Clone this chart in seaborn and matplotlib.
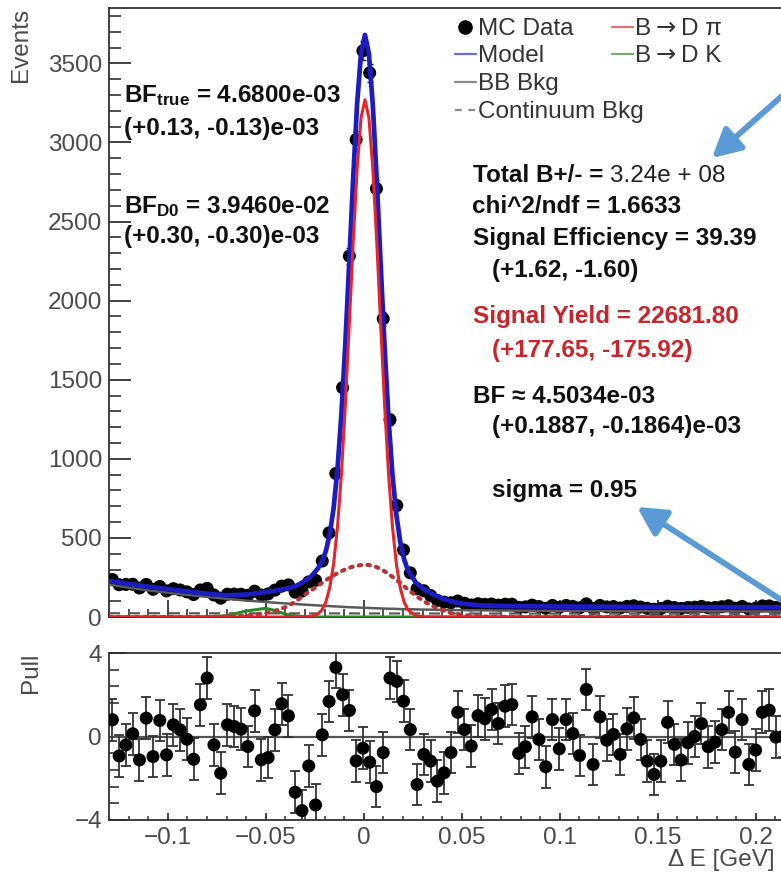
import numpy as np
import pandas as pd
import matplotlib
matplotlib.use("Agg")
import matplotlib.pyplot as plt
import seaborn as sns
from matplotlib.lines import Line2D
from matplotlib.patches import FancyArrowPatch
from matplotlib.ticker import MultipleLocator, FixedLocator, NullFormatter

# ---------------- histogram binning in Delta E ----------------
de_lo, de_hi, n_bins = -0.13, 0.25, 110

# MC data: events per bin (bins shown in the frame)
events = [237, 204, 206, 207, 183, 206, 175, 193, 165, 179,
          171, 159, 142, 171, 181, 139, 119, 144, 145, 144,
          137, 163, 139, 146, 170, 195, 203, 157, 164, 222,
          232, 354, 532, 907, 1450, 2282, 3018, 3579, 3440, 2708,
          1885, 1247, 705, 424, 279, 179, 166, 136, 105, 94,
          90, 101, 87, 76, 84, 80, 82, 75, 81, 81,
          61, 64, 75, 66, 55, 73, 61, 73, 67, 58,
          83, 54, 73, 64, 66, 57, 67, 71, 63, 55,
          49, 54, 68, 60, 54, 61, 62, 67, 58, 60,
          65, 71, 55, 67, 51, 56, 70, 70, 60, 60]

# pull of each bin w.r.t. the fitted model
pulls = [0.80, -0.93, -0.40, 0.13, -1.12, 0.88, -0.96, 0.77, -0.88, 0.56,
         0.32, -0.13, -1.09, 1.52, 2.80, -0.40, -1.76, 0.56, 0.48, 0.35,
         -0.48, 1.23, -1.12, -1.01, 0.32, 1.57, 0.99, -2.67, -3.55, -1.41,
         -3.28, 0.08, 1.68, 3.31, 2.00, 1.25, -1.17, -0.56, -1.23, -2.40,
         -0.77, 2.80, 2.64, 1.69, 0.33, -2.30, -0.86, -1.18, -2.14, -1.74,
         -0.77, 1.16, 0.33, -0.46, 1.00, 0.85, 1.29, 0.62, 1.45, 1.53,
         -0.81, -0.49, 0.94, -0.14, -1.45, 0.81, -0.59, 0.81, 0.14, -0.91,
         2.25, -1.34, 0.94, -0.18, 0.10, -0.86, 0.37, 0.89, -0.14, -1.18,
         -1.82, -1.18, 0.68, -0.38, -1.13, -0.30, 0.00, 0.62, -0.49, -0.27,
         0.33, 1.16, -0.75, 0.81, -1.34, -0.65, 1.16, 1.26, -0.03, 0.00]

# ---------------- fitted PDF components, sampled along Delta E ----------------
fit_x = [-0.13, -0.12, -0.11, -0.10, -0.09, -0.08, -0.07, -0.06, -0.05, -0.045,
         -0.04, -0.035, -0.0314, -0.0274, -0.0234,
         -0.0214, -0.0194, -0.0174, -0.0154, -0.0134, -0.0114, -0.0094, -0.0074,
         -0.0054, -0.0034, -0.0014, 0.0006,
         0.0026, 0.0046, 0.0066, 0.0086, 0.0106, 0.0126, 0.0146, 0.0166, 0.0186,
         0.0206, 0.0226,
         0.0266, 0.0306, 0.035, 0.04, 0.045, 0.05, 0.06, 0.07, 0.08, 0.10, 0.12,
         0.14, 0.16, 0.18, 0.20, 0.22, 0.25]

model = [228, 209, 192, 176, 161, 147, 137, 142, 157, 167,
         178, 194, 218, 250, 307,
         349, 415, 522, 688, 939, 1287, 1733, 2249, 2779, 3246, 3568, 3680,
         3562, 3236, 2766, 2231, 1710, 1258, 903, 647, 475, 363, 293,
         217, 176, 145, 117, 97, 85, 73, 69, 68, 66, 65, 64, 63, 62, 61, 60, 59]

sig_dpi = [0, 0, 0, 0, 0, 0, 0, 0, 0, 0,
           0, 0, 0, 3, 19,
           44, 93, 184, 336, 573, 909, 1344, 1851, 2374, 2836, 3156, 3270,
           3156, 2836, 2374, 1851, 1344, 909, 573, 336, 184, 93, 44,
           8, 1, 0, 0, 0, 0, 0, 0, 0, 0, 0, 0, 0, 0, 0, 0, 0]

dpi_broad = [0, 0, 0, 0, 0, 0, 2, 8, 25, 40,
             62, 95, 130, 163, 198,
             215, 232, 248, 263, 277, 290, 301, 311, 319, 325, 328, 330,
             328, 323, 315, 303, 289, 273, 254, 235, 215, 194, 173,
             134, 100, 69, 43, 24, 13, 3, 1, 0, 0, 0, 0, 0, 0, 0, 0, 0]

sig_dk = [0, 0, 0, 0, 0, 1, 8, 38, 55, 40,
          18, 7, 3, 1, 0,
          0, 0, 0, 0, 0, 0, 0, 0, 0, 0, 0, 0,
          0, 0, 0, 0, 0, 0, 0, 0, 0, 0, 0,
          0, 0, 0, 0, 0, 0, 0, 0, 0, 0, 0, 0, 0, 0, 0, 0, 0]

bb_bkg = [205, 186, 168, 153, 140, 127, 115, 104, 95, 90,
          86, 82, 79, 76, 73,
          72, 70, 69, 67, 66, 65, 63, 62, 61, 60, 59, 58,
          57, 56, 55, 54, 53, 52, 52, 51, 50, 50, 49,
          48, 47, 46, 45, 44, 43, 42, 41, 40, 39, 38, 37, 36, 36, 35, 35, 34]

cont_x = [-0.13, 0.25]
cont_bkg = [24, 20]

# ---------------- axis ticks ----------------
pull_xticks = [-0.1, -0.05, 0.0, 0.05, 0.1, 0.15, 0.2]
pull_xlabels = ["\u22120.1", "\u22120.05", "0", "0.05", "0.1", "0.15", "0.2"]
pull_yticks = [-4, 0, 4]
pull_ylabels = ["\u22124", "0", "4"]

# ---------------- fit summary text ----------------
left_lines = [(r"$\mathbf{BF}_{\mathbf{true}}$ = 4.6800e-03", 102),
              ("(+0.13, -0.13)e-03", 135),
              (r"$\mathbf{BF}_{\mathbf{D0}}$ = 3.9460e-02", 213),
              ("(+0.30, -0.30)e-03", 243)]
right_lines = [("chi^2/ndf = 1.6633", 472, 213, "#111111"),
               ("Signal Efficiency = 39.39", 473, 245, "#111111"),
               ("(+1.62, -1.60)", 492, 277, "#111111"),
               ("Signal Yield = 22681.80", 473, 323, "#c8242c"),
               ("(+177.65, -175.92)", 492, 357, "#c8242c"),
               ("BF \u2248 4.5034e-03", 473, 403, "#111111"),
               ("(+0.1887, -0.1864)e-03", 492, 433, "#111111"),
               ("sigma = 0.95", 492, 497, "#111111")]

# ---------------- style ----------------
sns.set_theme(style="white")
plt.rcParams.update({
    "font.family": ["Liberation Sans", "DejaVu Sans"],
    "mathtext.fontset": "custom",
    "mathtext.rm": "Liberation Sans",
    "mathtext.bf": "Liberation Sans:bold",
    "mathtext.it": "Liberation Sans:italic",
    "axes.edgecolor": "#333333",
    "axes.linewidth": 1.3,
    "axes.facecolor": "white",
    "figure.facecolor": "white",
})

W, H = 781, 877
fig = plt.figure(figsize=(W / 100, H / 100), dpi=100)


def fx(px):
    return px / W


def fy(py):
    return 1 - py / H


px_per_unit = 1960.0
ax_w = (de_hi - de_lo) * px_per_unit / W
ax_main = fig.add_axes([fx(109), fy(617), ax_w, (617 - 8) / H])
ax_pull = fig.add_axes([fx(109), fy(820), ax_w, (820 - 653) / H])

edges = np.linspace(de_lo, de_hi, n_bins + 1)
centers = 0.5 * (edges[:-1] + edges[1:])
xc = centers[:len(events)]
ev = np.asarray(events, dtype=float)

fit = pd.DataFrame({"dE": fit_x, "model": model, "sig_dpi": sig_dpi,
                    "dpi_broad": dpi_broad, "sig_dk": sig_dk, "bb": bb_bkg})
cont = pd.DataFrame({"dE": cont_x, "cont": cont_bkg})
data = pd.DataFrame({"dE": xc, "events": ev, "pull": pulls})

label_col = "#4a4a4a"
fs = 17.5

# ---------------- main panel ----------------
ax = ax_main
ax.errorbar(data["dE"], data["events"], yerr=np.sqrt(ev), fmt="none",
            ecolor="#222222", elinewidth=1.2, capsize=2.5, zorder=2)
sns.scatterplot(data=data, x="dE", y="events", ax=ax, color="black", s=88,
                edgecolor="none", zorder=3, legend=False)
sns.lineplot(data=cont, x="dE", y="cont", ax=ax, color="#5a5a5a", lw=1.6,
             linestyle=(0, (5, 4)), zorder=4)
sns.lineplot(data=fit, x="dE", y="bb", ax=ax, color="#5a5a5a", lw=1.8, zorder=4)
sns.lineplot(data=fit, x="dE", y="sig_dk", ax=ax, color="#2a8a2a", lw=2.2, zorder=4)
sns.lineplot(data=fit, x="dE", y="dpi_broad", ax=ax, color="#b4363a", lw=3.0,
             linestyle=(0, (0.6, 1.5)), dash_capstyle="round", zorder=5)
sns.lineplot(data=fit, x="dE", y="model", ax=ax, color="#1c1cc0", lw=3.4, zorder=6)
sns.lineplot(data=fit, x="dE", y="sig_dpi", ax=ax, color="#e3262c", lw=2.2, zorder=7)

ax.set_xlim(de_lo, de_hi)
ax.set_ylim(0, 3850)
ax.set_xlabel("")
ax.set_ylabel("")
ax.yaxis.set_major_locator(MultipleLocator(500))
ax.yaxis.set_minor_locator(MultipleLocator(100))
ax.xaxis.set_major_locator(MultipleLocator(0.05))
ax.xaxis.set_minor_locator(MultipleLocator(0.01))
ax.xaxis.set_major_formatter(NullFormatter())
ax.tick_params(axis="y", which="major", direction="in", length=16, width=1.3,
               color="#333333", labelsize=fs, labelcolor=label_col, pad=5,
               left=True)
ax.tick_params(axis="y", which="minor", direction="in", length=8.5, width=1.2,
               color="#333333", left=True)
ax.tick_params(axis="x", which="major", direction="in", length=12, width=1.3,
               color="#333333", bottom=True)
ax.tick_params(axis="x", which="minor", direction="in", length=6, width=1.2,
               color="#333333", bottom=True)
for s in ax.spines.values():
    s.set_color("#333333")
    s.set_linewidth(1.3)

# ---------------- pull panel ----------------
axp = ax_pull
axp.axhline(0, color="#555555", lw=1.6, zorder=1)
axp.errorbar(data["dE"], data["pull"], yerr=1.0, fmt="none", ecolor="#333333",
             elinewidth=1.3, capsize=3.5, capthick=1.3, zorder=2)
sns.scatterplot(data=data, x="dE", y="pull", ax=axp, color="black", s=88,
                edgecolor="none", zorder=3, legend=False)
axp.set_xlim(de_lo, de_hi)
axp.set_ylim(-4, 4)
axp.set_xlabel("")
axp.set_ylabel("")
axp.xaxis.set_major_locator(FixedLocator(pull_xticks))
axp.set_xticklabels(pull_xlabels)
axp.xaxis.set_minor_locator(MultipleLocator(0.01))
axp.yaxis.set_major_locator(FixedLocator(pull_yticks))
axp.set_yticklabels(pull_ylabels)
axp.yaxis.set_minor_locator(FixedLocator([-3.2, -2.4, -1.6, -0.8, 0.8, 1.6, 2.4, 3.2]))
axp.tick_params(axis="y", which="major", direction="in", length=13, width=1.3,
                color="#333333", labelsize=fs, labelcolor=label_col, pad=5, left=True)
axp.tick_params(axis="y", which="minor", direction="in", length=7, width=1.2,
                color="#333333", left=True)
axp.tick_params(axis="x", which="major", direction="in", length=5, width=1.3,
                color="#333333", labelsize=fs, labelcolor=label_col, pad=5, bottom=True)
axp.tick_params(axis="x", which="minor", direction="in", length=3, width=1.1,
                color="#333333", bottom=True)
for s in axp.spines.values():
    s.set_color("#333333")
    s.set_linewidth(1.3)

# ---------------- axis titles ----------------
fig.text(fx(21), fy(8), "Events", rotation=90, ha="center", va="top",
         fontsize=fs, color=label_col)
fig.text(fx(31), fy(653), "Pull", rotation=90, ha="center", va="top",
         fontsize=fs, color=label_col)
fig.text(fx(668), fy(866), "\u0394 E [GeV]", ha="left", va="baseline",
         fontsize=fs, color=label_col)

# ---------------- legend ----------------
leg_col = "#333333"
fig.add_artist(Line2D([fx(465)], [fy(27)], marker="o", ms=9.5, color="black",
                      transform=fig.transFigure))
leg_rows = [("MC Data", 35, None, None),
            ("Model", 62, "#6c6cd0", "-"),
            ("BB Bkg", 90, "#8a8a8a", "-"),
            ("Continuum Bkg", 118, "#8a8a8a", (0, (3, 3)))]
for text, base, col, ls in leg_rows:
    if col is not None:
        fig.add_artist(Line2D([fx(455), fx(476)], [fy(base - 8), fy(base - 8)],
                              color=col, lw=1.6, linestyle=ls,
                              transform=fig.transFigure))
    fig.text(fx(478), fy(base), text, ha="left", va="baseline", fontsize=fs,
             color=leg_col)
for tail, base, col in [("D \u03c0", 35, "#e07474"),
                        ("D K", 62, "#74a874")]:
    fig.add_artist(Line2D([fx(612), fx(633)], [fy(base - 8), fy(base - 8)],
                          color=col, lw=1.6, transform=fig.transFigure))
    fig.text(fx(635), fy(base), "B", ha="left", va="baseline", fontsize=fs,
             color=leg_col)
    fig.text(fx(656), fy(base), "\u2192", ha="left", va="baseline", fontsize=fs,
             color=leg_col, family="DejaVu Sans")
    fig.text(fx(681), fy(base), tail, ha="left", va="baseline", fontsize=fs,
             color=leg_col)

# ---------------- fit summary ----------------
for text, base in left_lines:
    fig.text(fx(124), fy(base), text, ha="left", va="baseline", fontsize=fs,
             fontweight="bold", color="#111111")

t_tot = fig.text(fx(473), fy(182), "Total B+/- =", ha="left", va="baseline",
                 fontsize=fs, fontweight="bold", color="#111111")
ax_main.annotate("3.24e + 08", xy=(1, 0), xycoords=t_tot, xytext=(5, 0),
                 textcoords="offset points", ha="left", va="bottom",
                 fontsize=fs, color="#222222", annotation_clip=False)
for text, x, base, col in right_lines:
    fig.text(fx(x), fy(base), text, ha="left", va="baseline", fontsize=fs,
             fontweight="bold", color=col)

# ---------------- pointer arrows ----------------
arrow_col = "#5b9bd5"
for (x0, y0), (x1, y1) in [((800, 80), (712, 158)), ((800, 612), (637, 507))]:
    fig.add_artist(FancyArrowPatch((fx(x0), fy(y0)), (fx(x1), fy(y1)),
                                   transform=fig.transFigure,
                                   arrowstyle="-|>,head_length=0.85,head_width=0.45",
                                   mutation_scale=20, lw=4.2, color=arrow_col,
                                   shrinkA=0, shrinkB=0, zorder=20))

fig.savefig("out.png", dpi=100)
